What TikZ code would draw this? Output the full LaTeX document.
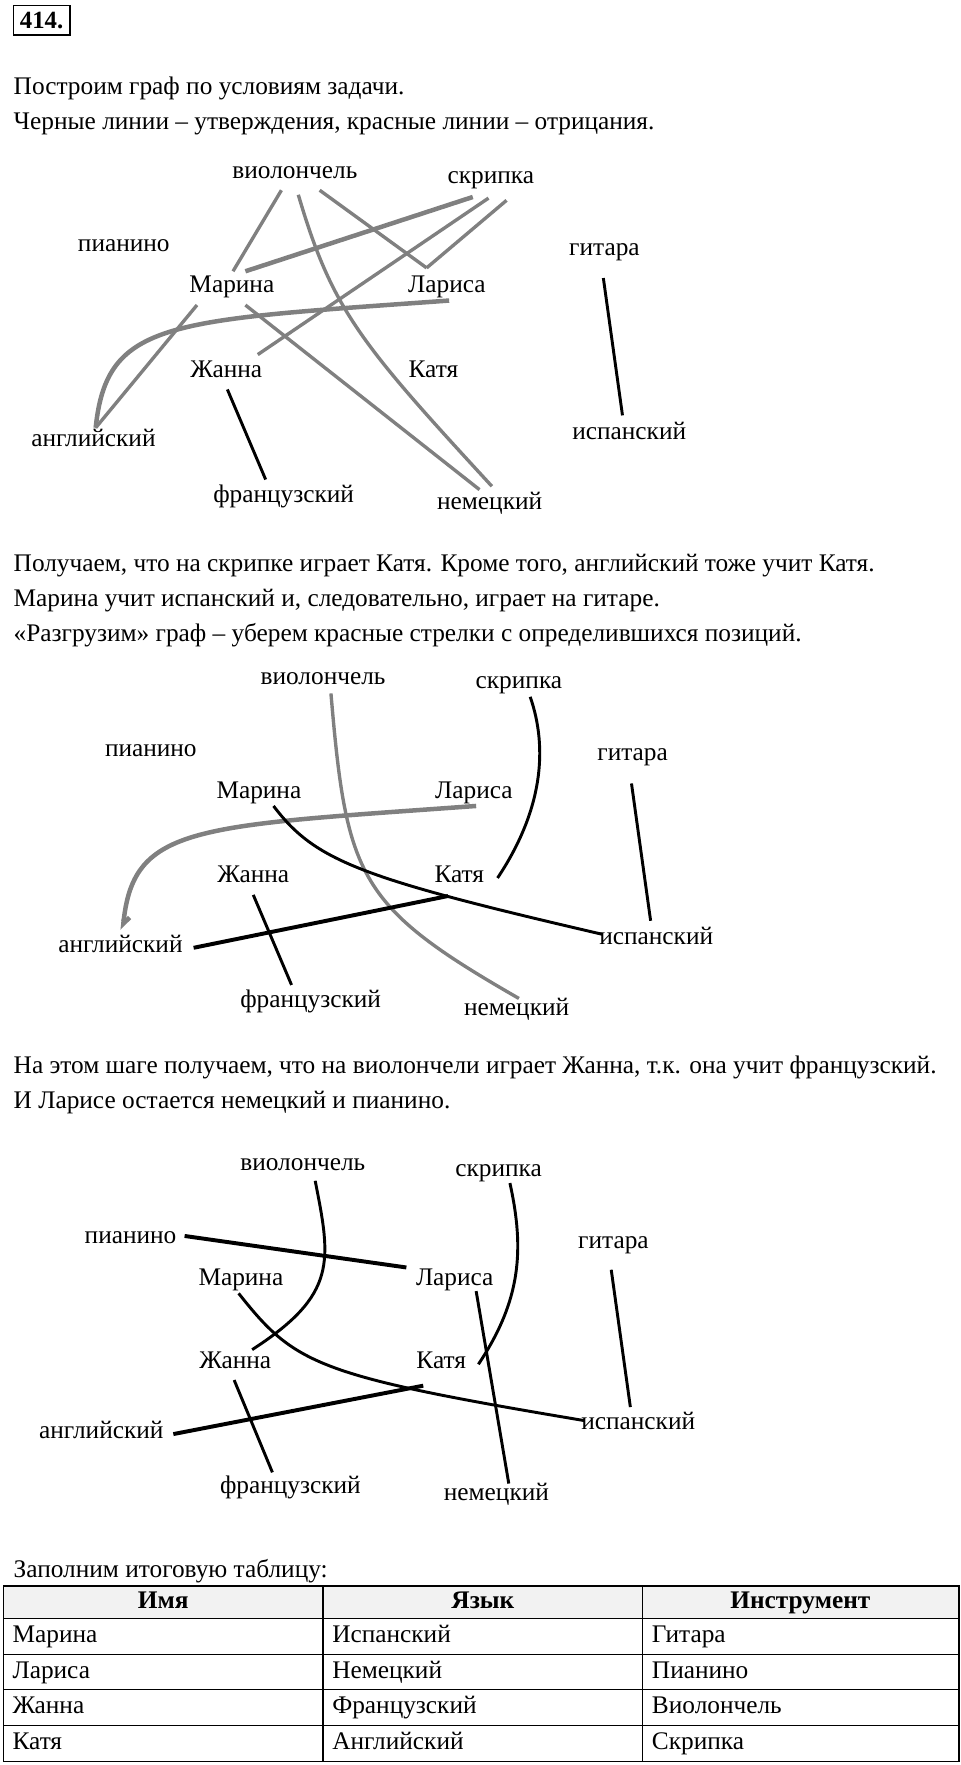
\documentclass[tikz,border=0pt]{standalone}
\usepackage{fontspec}
\setmainfont{Liberation Serif}
\usetikzlibrary{arrows.meta}
\definecolor{neggray}{RGB}{128,128,128}
\definecolor{headgray}{RGB}{242,242,242}
\tikzset{
  word/.style={font=\fontsize{22.5}{27}\selectfont, inner sep=0pt, text height=10pt, text depth=0pt},
  para/.style={font=\fontsize{22.5}{27}\selectfont, inner sep=0pt, anchor=base west},
  negline/.style={neggray, line width=3pt},
  posline/.style={black, line width=2.6pt},
}
\begin{document}
\begin{tikzpicture}[x=1pt,y=-1pt]
    \useasboundingbox (0,0) rectangle (853,1568);
    \node[draw, line width=1.4pt, inner sep=0pt, minimum width=50pt, minimum height=26pt,
          font=\fontsize{22}{26}\selectfont\bfseries] (num) at (37,18) {414.};
    \node[para] (txtA) at (12,84) {Построим граф по условиям задачи.};
    \node[para] (txtB) at (12,115) {Черные линии – утверждения, красные линии – отрицания.};
    % First graph
    \node[word] (vioA) at (262,154) {виолончель};
    \node[word] (skrA) at (436,158) {скрипка};
    \node[word] (piaA) at (110,218) {пианино};
    \node[word] (gitA) at (537,222) {гитара};
    \node[word] (marA) at (206,255) {Марина};
    \node[word] (larA) at (397,255) {Лариса};
    \node[word] (zhaA) at (201,330) {Жанна};
    \node[word] (katA) at (385,330) {Катя};
    \node[word] (angA) at (83,392) {английский};
    \node[word] (ispA) at (559,385) {испанский};
    \node[word] (fraA) at (252,441) {французский};
    \node[word] (nemA) at (435,448) {немецкий};
    \draw[negline] ([shift={(-12,15)}]vioA.center) -- ([shift={(1,-14)}]marA.center);
    \draw[negline] ([shift={(3,19)}]vioA.center) .. controls (295,275) and (320,305) .. ([shift={(2,-16)}]nemA.center);
    \draw[negline] ([shift={(22,15)}]vioA.center) -- ([shift={(-18,-17)}]larA.center);
    \draw[negline, line width=4pt] ([shift={(-16,17)}]skrA.center) -- ([shift={(12,-14)}]marA.center);
    \draw[negline] ([shift={(-2,18)}]skrA.center) -- ([shift={(28,-15)}]zhaA.center);
    \draw[negline] ([shift={(14,20)}]skrA.center) -- ([shift={(-18,-17)}]larA.center);
    \draw[negline, line width=4pt] ([shift={(2,12)}]larA.center) .. controls (150,285) and (95,284) .. ([shift={(2,-12)}]angA.center);
    \draw[negline] ([shift={(-31,16)}]marA.center) -- ([shift={(2,-12)}]angA.center);
    \draw[negline] ([shift={(12,16)}]marA.center) -- ([shift={(-9,-13)}]nemA.center);
    \draw[posline] ([shift={(1,16)}]zhaA.center) -- ([shift={(-16,-15)}]fraA.center);
    \draw[posline] ([shift={(-1,25)}]gitA.center) -- ([shift={(-6,-16)}]ispA.center);
    % End of first graph
    \node[para] (txtC) at (12,508) {Получаем, что на скрипке играет Катя. Кроме того, английский тоже учит Катя.};
    \node[para] (txtD) at (12,539) {Марина учит испанский и, следовательно, играет на гитаре.};
    \node[para] (txtE) at (12,570) {«Разгрузим» граф – уберем красные стрелки с определившихся позиций.};
    % Second graph
    \node[word] (vioB) at (287,603) {виолончель};
    \node[word] (skrB) at (461,607) {скрипка};
    \node[word] (piaB) at (134,667) {пианино};
    \node[word] (gitB) at (562,671) {гитара};
    \node[word] (marB) at (230,704) {Марина};
    \node[word] (larB) at (421,704) {Лариса};
    \node[word] (zhaB) at (225,779) {Жанна};
    \node[word] (katB) at (408,779) {Катя};
    \node[word] (angB) at (107,841) {английский};
    \node[word] (ispB) at (583,834) {испанский};
    \node[word] (fraB) at (276,890) {французский};
    \node[word] (nemB) at (459,897) {немецкий};
    \draw[negline] ([shift={(7,13)}]vioB.center) .. controls (308,780) and (318,805) .. ([shift={(2,-10)}]nemB.center);
    \draw[posline] ([shift={(10,12)}]skrB.center) .. controls (487,665) and (482,720) .. ([shift={(34,1)}]katB.center);
    \draw[negline, line width=4pt, -{Straight Barb[harpoon, length=6pt, width=10pt]}] ([shift={(2,12)}]larB.center) .. controls (174,734) and (119,733) .. ([shift={(2,-15)}]angB.center); % arrow to english
    \draw[posline] ([shift={(13,12)}]marB.center) .. controls (280,765) and (320,780) .. ([shift={(-48,-4)}]ispB.center);
    \draw[posline, line width=3.5pt] ([shift={(65,1)}]angB.center) -- ([shift={(-10,17)}]katB.center);
    \draw[posline] ([shift={(0,16)}]zhaB.center) -- ([shift={(-17,-15)}]fraB.center);
    \draw[posline] ([shift={(-1,25)}]gitB.center) -- ([shift={(-5,-16)}]ispB.center);
    % End of second graph
    \node[para] (txtF) at (12,954) {На этом шаге получаем, что на виолончели играет Жанна, т.к. она учит французский.};
    \node[para] (txtG) at (12,985) {И Ларисе остается немецкий и пианино.};
    % Third graph
    \node[word] (vioC) at (269,1035) {виолончель};
    \node[word] (skrC) at (443,1040) {скрипка};
    \node[word] (piaC) at (116,1100) {пианино};
    \node[word] (gitC) at (545,1104) {гитара};
    \node[word] (marC) at (214,1137) {Марина};
    \node[word] (larC) at (404,1137) {Лариса};
    \node[word] (zhaC) at (209,1211) {Жанна};
    \node[word] (katC) at (392,1211) {Катя};
    \node[word] (angC) at (90,1273) {английский};
    \node[word] (ispC) at (567,1265) {испанский};
    \node[word] (fraC) at (258,1322) {французский};
    \node[word] (nemC) at (441,1328) {немецкий};
    \draw[posline] ([shift={(11,14)}]vioC.center) .. controls (294,1120) and (300,1150) .. ([shift={(15,-12)}]zhaC.center);
    \draw[posline] ([shift={(10,11)}]skrC.center) .. controls (466,1110) and (463,1155) .. ([shift={(33,1)}]katC.center);
    \draw[posline, line width=3.5pt] ([shift={(48,-2)}]piaC.center) -- ([shift={(-43,-11)}]larC.center);
    \draw[posline] ([shift={(-2,12)}]marC.center) .. controls (262,1212) and (280,1222) .. ([shift={(-48,-3)}]ispC.center);
    \draw[posline, line width=3.5pt] ([shift={(64,1)}]angC.center) -- ([shift={(-16,20)}]katC.center);
    \draw[posline] ([shift={(-1,15)}]zhaC.center) -- ([shift={(-16,-14)}]fraC.center);
    \draw[posline] ([shift={(19,10)}]larC.center) -- ([shift={(11,-10)}]nemC.center);
    \draw[posline] ([shift={(-2,24)}]gitC.center) -- ([shift={(-7,-15)}]ispC.center);
    % End of third graph
    \node[para] (txtH) at (12,1401) {Заполним итоговую таблицу:};
    % Result table
    \fill[headgray] (3,1409) rectangle (852,1438);
    \draw[line width=1.2pt] (3,1409) rectangle (852,1565);
    \foreach \y in {1438,1470,1501,1533}
        \draw[line width=1.2pt] (3,\y) -- (852,\y);
    \draw[line width=1.2pt] (287,1409) -- (287,1565);
    \draw[line width=1.2pt] (571,1409) -- (571,1565);
    \node[word, font=\fontsize{22.5}{27}\selectfont\bfseries] (headA) at (145,1424) {Имя};
    \node[word, font=\fontsize{22.5}{27}\selectfont\bfseries] (headB) at (429,1424) {Язык};
    \node[word, font=\fontsize{22.5}{27}\selectfont\bfseries] (headC) at (711,1424) {Инструмент};
    \foreach \nm/\lang/\inst/\y [count=\i] in {Марина/Испанский/Гитара/1454, Лариса/Немецкий/Пианино/1486,
            Жанна/Французский/Виолончель/1517, Катя/Английский/Скрипка/1549} {
        \node[word, anchor=west] (name\i) at (11,\y) {\nm};
        \node[word, anchor=west] (lang\i) at (295,\y) {\lang};
        \node[word, anchor=west] (inst\i) at (579,\y) {\inst};
    }
\end{tikzpicture}
\end{document}
